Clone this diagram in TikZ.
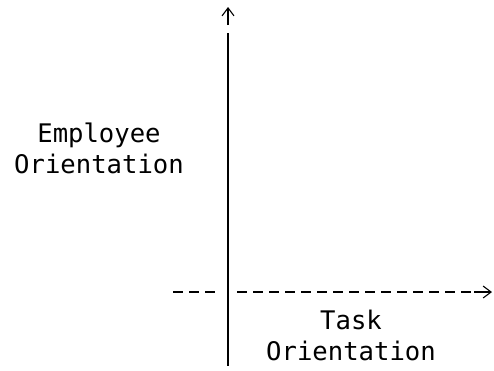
\documentclass[tikz,border=0pt]{standalone}
\usepackage{fontspec}
\setmonofont{DejaVu Sans Mono}
\usetikzlibrary{arrows.meta}

\begin{document}
\begin{tikzpicture}[x=1pt,y=-1pt,
  axis/.style={line width=1.1pt},
  dashaxis/.style={line width=1.6pt,dash pattern=on 10pt off 6pt},
  tip/.style={line width=1.1pt,-{Straight Barb[length=8pt,width=12pt]}},
  axislabel/.style={font=\ttfamily\fontsize{25.6}{31}\selectfont,align=center,inner sep=0pt}]
\useasboundingbox (0,0) rectangle (494,370);
% vertical axis with its arrow
\coordinate (vtop) at (228,33);
\coordinate (vbot) at (228,366);
\coordinate (vstem) at (228,25);
\coordinate (vtip) at (228,7);
\draw[axis] (vtop) -- (vbot);
\draw[tip] (vstem) -- (vtip);
% horizontal axis, dashed
\coordinate (hleft) at (173,292);
\coordinate (hmid) at (217,292);
\coordinate (hright) at (237,292);
\coordinate (hend) at (471,292);
\coordinate (hstem) at (474,292);
\coordinate (htip) at (492,292);
\draw[dashaxis] (hleft) -- (hmid);
\draw[dashaxis] (hright) -- (hend);
\draw[tip] (hstem) -- (htip);
% labels
\node[axislabel,anchor=north] (employee) at (99,123) {Employee\\Orientation};
\node[axislabel,anchor=north] (task) at (351,310) {Task\\Orientation};
\end{tikzpicture}
\end{document}
